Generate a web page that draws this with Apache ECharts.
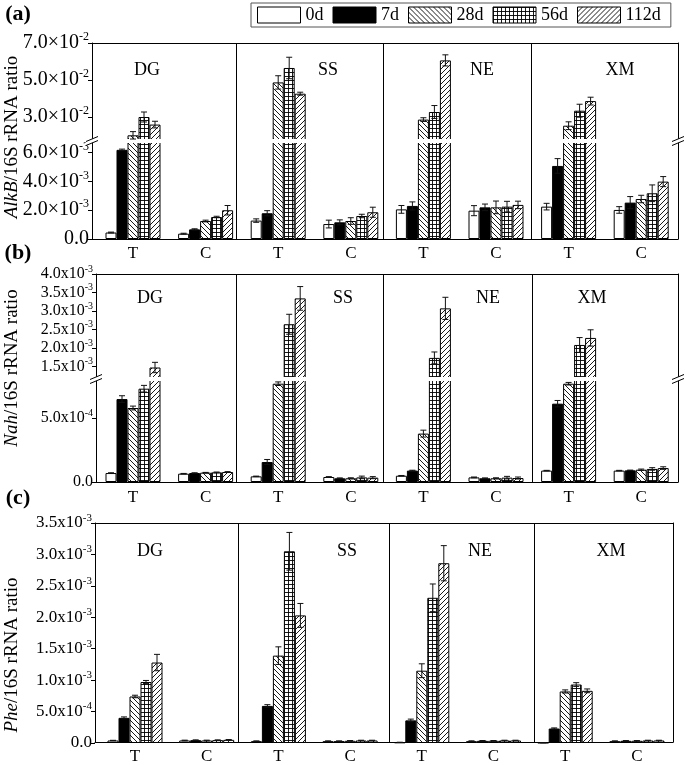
<!DOCTYPE html>
<html>
<head>
<meta charset="utf-8">
<script src="https://cdn.jsdelivr.net/npm/echarts@6/dist/echarts.min.js"></script>
<style>
html, body { margin: 0; padding: 0; background: #fff; }
#main { width: 685px; height: 765px; }
</style>
</head>
<body>
<div id="main"></div>
<script>
var days = ['0d', '7d', '28d', '56d', '112d'];
var sites = ['DG', 'SS', 'NE', 'XM'];
var groups = ['T', 'C'];

// columns: DG-T, DG-C, SS-T, SS-C, NE-T, NE-C, XM-T, XM-C ; one row per day
var alkBMean = [
  [0.45e-3, 0.37e-3, 1.28e-3, 1.04e-3, 2.06e-3, 1.97e-3, 2.25e-3, 2.02e-3],
  [6.2e-3, 0.67e-3, 1.79e-3, 1.16e-3, 2.3e-3, 2.2e-3, 5.08e-3, 2.53e-3],
  [2.01e-2, 1.25e-3, 4.87e-2, 1.25e-3, 2.86e-2, 2.2e-3, 2.53e-2, 2.78e-3],
  [3.0e-2, 1.53e-3, 5.65e-2, 1.6e-3, 3.27e-2, 2.25e-3, 3.34e-2, 3.18e-3],
  [2.59e-2, 2.0e-3, 4.26e-2, 1.86e-3, 6.06e-2, 2.37e-3, 3.86e-2, 3.99e-3]
];
var alkBErr = [
  [0.03e-3, 0.03e-3, 0.12e-3, 0.27e-3, 0.27e-3, 0.35e-3, 0.23e-3, 0.23e-3],
  [0.05e-3, 0.04e-3, 0.18e-3, 0.17e-3, 0.28e-3, 0.23e-3, 0.51e-3, 0.42e-3],
  [0.2e-2, 0.06e-3, 0.36e-2, 0.23e-3, 0.1e-2, 0.44e-3, 0.21e-2, 0.26e-3],
  [0.27e-2, 0.05e-3, 0.58e-2, 0.12e-3, 0.35e-2, 0.37e-3, 0.35e-2, 0.58e-3],
  [0.18e-2, 0.33e-3, 0.08e-2, 0.35e-3, 0.3e-2, 0.26e-3, 0.21e-2, 0.35e-3]
];

var nahMean = [
  [0.70e-4, 0.65e-4, 0.44e-4, 0.39e-4, 0.49e-4, 0.36e-4, 0.89e-4, 0.89e-4],
  [6.48e-4, 0.70e-4, 1.56e-4, 0.29e-4, 0.89e-4, 0.29e-4, 6.12e-4, 0.91e-4],
  [5.78e-4, 0.73e-4, 7.68e-4, 0.29e-4, 3.78e-4, 0.29e-4, 7.68e-4, 0.96e-4],
  [7.29e-4, 0.75e-4, 2.64e-3, 0.36e-4, 1.73e-3, 0.34e-4, 2.08e-3, 1.02e-4],
  [1.47e-3, 0.78e-4, 3.34e-3, 0.34e-4, 3.07e-3, 0.31e-4, 2.27e-3, 1.09e-4]
];
var nahErr = [
  [0.02e-4, 0.02e-4, 0.02e-4, 0.03e-4, 0.02e-4, 0.03e-4, 0.02e-4, 0.02e-4],
  [0.26e-4, 0.02e-4, 0.2e-4, 0.03e-4, 0.03e-4, 0.03e-4, 0.25e-4, 0.02e-4],
  [0.15e-4, 0.02e-4, 0.14e-4, 0.04e-4, 0.27e-4, 0.04e-4, 0.1e-4, 0.05e-4],
  [0.26e-4, 0.03e-4, 0.27e-3, 0.1e-4, 0.16e-3, 0.1e-4, 0.2e-3, 0.1e-4],
  [0.14e-3, 0.03e-4, 0.32e-3, 0.08e-4, 0.3e-3, 0.08e-4, 0.22e-3, 0.1e-4]
];

var pheMean = [
  [0.04e-3, 0.04e-3, 0.03e-3, 0.03e-3, 0.01e-3, 0.03e-3, 0.005e-3, 0.03e-3],
  [0.40e-3, 0.045e-3, 0.59e-3, 0.03e-3, 0.36e-3, 0.035e-3, 0.23e-3, 0.035e-3],
  [0.74e-3, 0.04e-3, 1.39e-3, 0.035e-3, 1.15e-3, 0.035e-3, 0.82e-3, 0.035e-3],
  [0.97e-3, 0.045e-3, 3.05e-3, 0.04e-3, 2.31e-3, 0.04e-3, 0.93e-3, 0.04e-3],
  [1.28e-3, 0.05e-3, 2.03e-3, 0.04e-3, 2.86e-3, 0.04e-3, 0.83e-3, 0.04e-3]
];
var pheErr = [
  [0.003e-3, 0.005e-3, 0.003e-3, 0.004e-3, 0.002e-3, 0.004e-3, 0.002e-3, 0.004e-3],
  [0.015e-3, 0.005e-3, 0.02e-3, 0.004e-3, 0.02e-3, 0.004e-3, 0.01e-3, 0.004e-3],
  [0.02e-3, 0.005e-3, 0.14e-3, 0.004e-3, 0.11e-3, 0.004e-3, 0.025e-3, 0.004e-3],
  [0.025e-3, 0.005e-3, 0.3e-3, 0.004e-3, 0.22e-3, 0.004e-3, 0.03e-3, 0.004e-3],
  [0.13e-3, 0.005e-3, 0.19e-3, 0.004e-3, 0.28e-3, 0.004e-3, 0.03e-3, 0.004e-3]
];

// tick labels per axis segment
var alkBUpTicks = [0.03, 0.05, 0.07];
var alkBLowTicks = [0, 2e-3, 4e-3, 6e-3];
var nahUpTicks = [1.5e-3, 2.0e-3, 2.5e-3, 3.0e-3, 3.5e-3, 4.0e-3];
var nahLowTicks = [0, 5e-4];
var pheTicks = [0, 0.5e-3, 1.0e-3, 1.5e-3, 2.0e-3, 2.5e-3, 3.0e-3, 3.5e-3];

var serif = 'Liberation Serif';
var BAR_W = 11;

// fill patterns
function hatch(kind) {
  var n = kind === 'grid' ? 4 : 5;
  var cv = document.createElement('canvas');
  cv.width = n; cv.height = n;
  var g = cv.getContext('2d');
  g.fillStyle = '#fff';
  g.fillRect(0, 0, n, n);
  g.strokeStyle = '#000';
  g.lineWidth = 0.9;
  g.beginPath();
  if (kind === 'grid') {
    g.moveTo(0, 0.5); g.lineTo(n, 0.5);
    g.moveTo(0.5, 0); g.lineTo(0.5, n);
  } else if (kind === 'back') {
    for (var k = -1; k <= 1; k++) { g.moveTo(k * n, 0); g.lineTo(k * n + n, n); }
  } else {
    for (var k = -1; k <= 1; k++) { g.moveTo(k * n + n, 0); g.lineTo(k * n, n); }
  }
  g.stroke();
  return { image: cv, repeat: 'repeat' };
}
var fills = ['#fff', '#000', hatch('back'), hatch('grid'), hatch('fwd')];

var panels = [
  {
    mean: alkBMean, err: alkBErr, sep: '×', gene: 'AlkB', tag: '(a)',
    left: 92, right: 678, top: 43, bottom: 239, c0: 133, step: 72.6,
    dividers: [236, 383, 531], labelSize: 20, supSize: 12, xMargin: 6,
    siteX: [147, 328, 482, 620], siteY: 70, titleY: 137, tagY: 14,
    segs: [
      { top: 43, bottom: 140, min: 0.01757, max: 0.07, ticks: alkBUpTicks, floor: 6.745e-3, ceil: Infinity },
      { top: 142, bottom: 239, min: 0, max: 6.745e-3, ticks: alkBLowTicks, floor: -Infinity, ceil: 6.745e-3 }
    ]
  },
  {
    mean: nahMean, err: nahErr, sep: 'x', gene: 'Nah', tag: '(b)',
    left: 96, right: 678, top: 274, bottom: 482, c0: 133, step: 72.6,
    dividers: [236, 383, 532], labelSize: 16, supSize: 10, xMargin: 7,
    siteX: [150, 343, 488, 592], siteY: 298, titleY: 368, tagY: 253,
    segs: [
      { top: 274, bottom: 378, min: 1.186e-3, max: 4.0e-3, ticks: nahUpTicks, floor: 7.97e-4, ceil: Infinity },
      { top: 380, bottom: 482, min: 0, max: 7.97e-4, ticks: nahLowTicks, floor: -Infinity, ceil: 7.97e-4 }
    ]
  },
  {
    mean: pheMean, err: pheErr, sep: 'x', gene: 'Phe', tag: '(c)',
    left: 95, right: 673, top: 523, bottom: 743, c0: 135, step: 71.7,
    dividers: [238, 389, 534], labelSize: 17, supSize: 11, xMargin: 6,
    siteX: [150, 347, 480, 611], siteY: 551, titleY: 655, tagY: 498,
    segs: [
      { top: 523, bottom: 743, min: 0, max: 3.5e-3, ticks: pheTicks, floor: -Infinity, ceil: Infinity }
    ]
  }
];

var grids = [], xAxes = [], yAxes = [], series = [], graphics = [];
var blackLine = { show: true, onZero: false, lineStyle: { color: '#000', width: 1 } };

function sciLabel(sep) {
  return function (v) {
    if (Math.abs(v) < 1e-12) return '{m|0.0}';
    var e = Math.floor(Math.log10(v) + 1e-9);
    var m = (v / Math.pow(10, e)).toFixed(1);
    return '{m|' + m + sep + '10}{s|' + e + '}';
  };
}

function errorBar(params, api) {
  var x = api.value(0), m = api.value(1), e = api.value(2), d = api.value(3);
  var px = api.coord([x, m])[0] + (d - 2) * BAR_W;
  var hi = api.coord([x, m + e])[1];
  var lo = api.coord([x, m - e])[1];
  var st = { stroke: '#111', lineWidth: 1 };
  return {
    type: 'group',
    children: [
      { type: 'line', shape: { x1: px, y1: hi, x2: px, y2: lo }, style: st },
      { type: 'line', shape: { x1: px - 3, y1: hi, x2: px + 3, y2: hi }, style: st },
      { type: 'line', shape: { x1: px - 3, y1: lo, x2: px + 3, y2: lo }, style: st }
    ]
  };
}

function dividerLine(params, api) {
  var x = Math.round(api.coord([api.value(0), 0])[0]) + 0.5;
  var cs = params.coordSys;
  return { type: 'line', shape: { x1: x, y1: cs.y, x2: x, y2: cs.y + cs.height }, style: { stroke: '#000', lineWidth: 1 } };
}

function breakMark(cx, cy) {
  var w = 6, h = 2.5, d = 2;
  return [
    { type: 'polygon', z: 100, shape: { points: [[cx - w, cy + h - d], [cx + w, cy - h - d], [cx + w, cy - h + d], [cx - w, cy + h + d]] }, style: { fill: '#fff' } },
    { type: 'line', z: 101, shape: { x1: cx - w, y1: cy + h - d, x2: cx + w, y2: cy - h - d }, style: { stroke: '#000', lineWidth: 1 } },
    { type: 'line', z: 101, shape: { x1: cx - w, y1: cy + h + d, x2: cx + w, y2: cy - h + d }, style: { stroke: '#000', lineWidth: 1 } }
  ];
}

panels.forEach(function (p) {
  var xmin = (p.left - p.c0) / p.step;
  var xmax = (p.right - p.c0) / p.step;
  var width = p.right - p.left;
  var positions = [0, 1, 2, 3, 4, 5, 6, 7];

  // frame: box, T/C labels, site dividers
  var fg = grids.length;
  grids.push({ left: p.left, top: p.top, width: width, height: p.bottom - p.top });
  var fx = xAxes.length;
  xAxes.push({
    type: 'value', gridIndex: fg, min: xmin, max: xmax, position: 'bottom',
    axisLine: blackLine, axisTick: { show: false }, splitLine: { show: false },
    axisLabel: {
      customValues: positions, margin: p.xMargin, color: '#000', fontFamily: serif, fontSize: 17,
      formatter: function (v) { return groups[Math.round(v) % 2]; }
    }
  });
  xAxes.push({
    type: 'value', gridIndex: fg, min: xmin, max: xmax, position: 'top',
    axisLine: blackLine, axisTick: { show: false }, axisLabel: { show: false }, splitLine: { show: false }
  });
  var fy = yAxes.length;
  yAxes.push({
    type: 'value', gridIndex: fg, min: 0, max: 1, position: 'left',
    axisLine: blackLine, axisTick: { show: false }, axisLabel: { show: false }, splitLine: { show: false }
  });
  yAxes.push({
    type: 'value', gridIndex: fg, min: 0, max: 1, position: 'right',
    axisLine: blackLine, axisTick: { show: false }, axisLabel: { show: false }, splitLine: { show: false }
  });
  series.push({
    type: 'custom', name: 'divider', xAxisIndex: fx, yAxisIndex: fy, silent: true, z: 6,
    data: p.dividers.map(function (px) { return [(px - p.c0) / p.step]; }),
    renderItem: dividerLine
  });

  // data segments (two for a broken axis)
  p.segs.forEach(function (seg) {
    var g = grids.length;
    grids.push({ left: p.left, top: seg.top, width: width, height: seg.bottom - seg.top });
    var xi = xAxes.length;
    xAxes.push({ type: 'value', gridIndex: g, min: xmin, max: xmax, show: false, splitLine: { show: false } });
    var yi = yAxes.length;
    yAxes.push({
      type: 'value', gridIndex: g, min: seg.min, max: seg.max,
      axisLine: { show: false, onZero: false }, splitLine: { show: false },
      axisTick: { show: true, length: 4, customValues: seg.ticks, lineStyle: { color: '#000' } },
      axisLabel: {
        customValues: seg.ticks, margin: 3, formatter: sciLabel(p.sep),
        rich: {
          m: { fontFamily: serif, fontSize: p.labelSize, lineHeight: p.labelSize + 4, color: '#000' },
          s: { fontFamily: serif, fontSize: p.supSize, lineHeight: p.supSize, verticalAlign: 'top', color: '#000' }
        }
      }
    });
    days.forEach(function (d, k) {
      series.push({
        type: 'bar', name: d, xAxisIndex: xi, yAxisIndex: yi,
        barWidth: BAR_W, barGap: '0%', clip: true,
        itemStyle: { color: fills[k], borderColor: '#000', borderWidth: 1 },
        data: p.mean[k].map(function (v, i) { return v > seg.floor ? [i, v] : [i, '-']; })
      });
    });
    var errs = [];
    days.forEach(function (d, k) {
      p.mean[k].forEach(function (v, i) {
        if (v > seg.floor && v <= seg.ceil) errs.push([i, v, p.err[k][i], k]);
      });
    });
    series.push({
      type: 'custom', name: 'err', xAxisIndex: xi, yAxisIndex: yi, silent: true, z: 5,
      data: errs, renderItem: errorBar
    });
  });

  // white band across the bars at the axis break, plus break marks on both edges
  if (p.segs.length > 1) {
    var b0 = p.segs[0].bottom - 1, b1 = p.segs[1].top + 1;
    graphics.push({
      type: 'rect', z: 4, silent: true,
      shape: { x: p.left + 1, y: b0, width: width - 2, height: b1 - b0 },
      style: { fill: '#fff' }
    });
    var cy = (b0 + b1) / 2;
    graphics = graphics.concat(breakMark(p.left, cy), breakMark(p.right, cy));
  }

  sites.forEach(function (s, i) {
    graphics.push({
      type: 'text', x: p.siteX[i], y: p.siteY, z: 50,
      style: { text: s, fill: '#000', font: '18px "' + serif + '"', align: 'center', verticalAlign: 'middle' }
    });
  });

  graphics.push({
    type: 'text', x: 12, y: p.titleY, rotation: Math.PI / 2, z: 50,
    style: {
      text: '{i|' + p.gene + '}{n|/16S rRNA ratio}', align: 'center', verticalAlign: 'middle', fill: '#000',
      rich: {
        i: { fontFamily: serif, fontSize: 19, fontStyle: 'italic', fill: '#000' },
        n: { fontFamily: serif, fontSize: 19, fill: '#000' }
      }
    }
  });
  graphics.push({
    type: 'text', x: 18, y: p.tagY, z: 50,
    style: { text: p.tag, fill: '#000', font: 'bold 22px "' + serif + '"', align: 'center', verticalAlign: 'middle' }
  });
});

var chart = echarts.init(document.getElementById('main'));
chart.setOption({
  animation: false,
  backgroundColor: '#fff',
  legend: {
    data: days, left: 251, top: 3, icon: 'rect',
    itemWidth: 43, itemHeight: 16, itemGap: 9,
    padding: [3, 10, 3, 6], borderColor: '#555', borderWidth: 1,
    itemStyle: { borderColor: '#000', borderWidth: 1 },
    textStyle: { fontFamily: serif, fontSize: 18, color: '#000' }
  },
  grid: grids,
  xAxis: xAxes,
  yAxis: yAxes,
  series: series,
  graphic: graphics
});
</script>
</body>
</html>
